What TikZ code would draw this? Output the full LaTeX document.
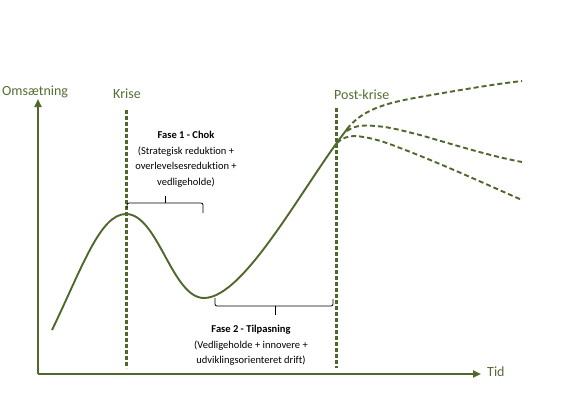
\documentclass[tikz,border=0pt]{standalone}
\usepackage{fontspec}
\setmainfont{Carlito}[Ligatures=CommonOff]
\usetikzlibrary{arrows.meta}
\definecolor{olive}{RGB}{79,104,44}
\definecolor{labelgreen}{RGB}{84,110,50}
\begin{document}
\begin{tikzpicture}[x=1pt,y=-1pt,
  axisline/.style={draw=olive,line width=2.4pt,-{Triangle[length=8pt,width=7pt]}},
  phaseline/.style={draw=olive,line width=3pt,dash pattern=on 4pt off 2pt},
  curveline/.style={draw=olive,line width=1.9pt},
  branchline/.style={draw=olive,line width=1.9pt,dash pattern=on 5pt off 3pt},
  bracketline/.style={draw=black,line width=0.8pt,rounded corners=2pt},
  axislabel/.style={text=labelgreen,font=\fontsize{14}{16}\selectfont,inner sep=0pt},
  phasetext/.style={text=black,font=\fontsize{10.5}{15.5}\selectfont,align=center,inner sep=0pt}]
\useasboundingbox (0,0) rectangle (580,394);
% axes
\coordinate (origin) at (38,374);
\coordinate (ytop) at (38,99);
\coordinate (xend) at (481,374);
\draw[axisline] (origin) -- (ytop);
\draw[axisline] (origin) -- (xend);
\node[axislabel,anchor=west] (yl) at (2,92) {Omsætning};
\node[axislabel,anchor=west] (xl) at (487,372) {Tid};
% phase lines
\coordinate (k1) at (126,110);
\coordinate (k2) at (126,368);
\coordinate (p1) at (336,108);
\coordinate (p2) at (336,368);
\draw[phaseline] (k1) -- (k2);
\draw[phaseline] (p1) -- (p2);
\node[axislabel,anchor=west] (krise) at (113,94) {Krise};
\node[axislabel,anchor=west] (post) at (334,95) {Post-krise};
% curve
\coordinate (c0) at (52,330);
\coordinate (peak) at (126,214);
\coordinate (trough) at (204,298);
\coordinate (c3) at (348,128);
\draw[curveline] (c0) .. controls (82,268) and (100,214) .. (peak)
  .. controls (158,214) and (172,298) .. (trough)
  .. controls (245,298) and (305,182) .. (c3);
% branches
\coordinate (bu) at (522,81);
\coordinate (bm) at (522,162);
\coordinate (bl) at (522,200);
\coordinate (s1) at (347,129);
\coordinate (s2) at (347,131);
\coordinate (s3) at (337,143);
\draw[branchline] (s1) .. controls (362,110) and (385,103) .. (420,97)
  .. controls (460,90) and (495,84) .. (bu);
\draw[branchline] (s2) .. controls (355,125) and (365,125) .. (375,126)
  .. controls (390,127) and (400,130) .. (420,135)
  .. controls (455,145) and (490,156) .. (bm);
\draw[branchline] (s3) .. controls (342,138) and (348,136) .. (355,136)
  .. controls (370,137) and (385,142) .. (400,148)
  .. controls (440,163) and (490,186) .. (bl);
% bracket 1
\coordinate (b1l) at (127,208);
\coordinate (b1r) at (203,213);
\coordinate (b1m) at (165,196);
\draw[bracketline] (b1l) -- (127,203) -- (203,203) -- (b1r);
\draw[bracketline] (165,203) -- (b1m);
% bracket 2
\coordinate (b2l) at (215,298);
\coordinate (b2r) at (333,299);
\coordinate (b2m) at (275,315);
\draw[bracketline] (b2l) -- (215,306) -- (333,306) -- (b2r);
\draw[bracketline] (275,306) -- (b2m);
% phase texts
\node[phasetext,anchor=north] (f1) at (186,131) {\textbf{Fase 1 - Chok}\\(Strategisk reduktion +\\overlevelsesreduktion +\\vedligeholde)};
\node[phasetext,anchor=north] (f2) at (251,325) {\textbf{Fase 2 - Tilpasning}\\(Vedligeholde + innovere +\\udviklingsorienteret drift)};
\end{tikzpicture}
\end{document}
